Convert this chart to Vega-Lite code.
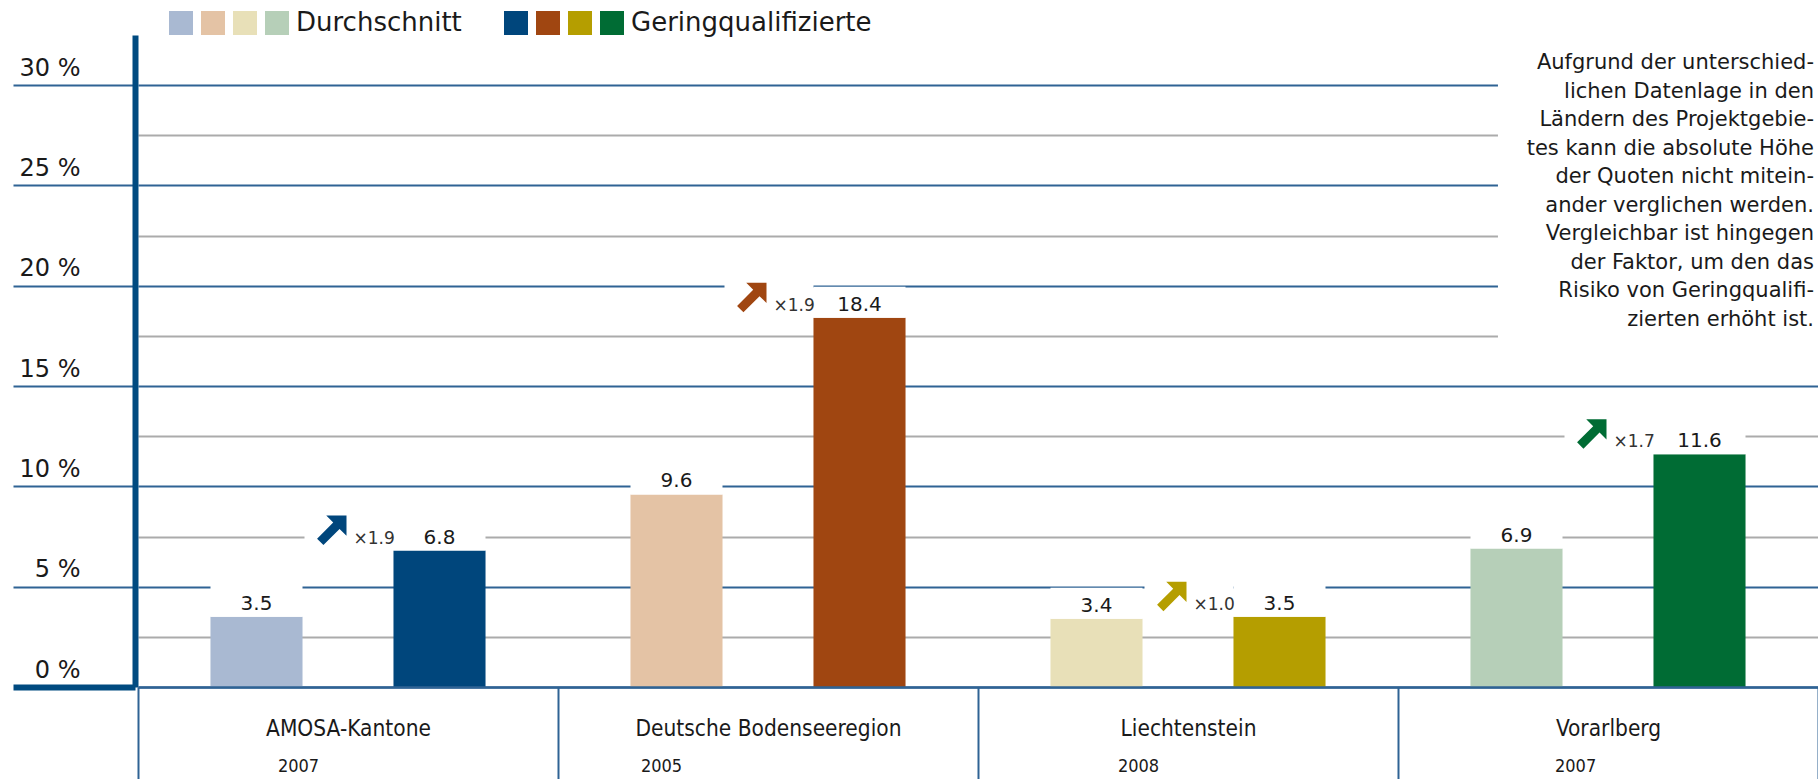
{
  "$schema": "https://vega.github.io/schema/vega-lite/v6.json",
  "width": 1680,
  "height": 652,
  "autosize": {"type": "none"},
  "padding": {"left": 138, "top": 35, "right": 0, "bottom": 92},
  "background": "white",
  "config": {"view": {"stroke": null}, "font": "DejaVu Sans"},
  "data": {
    "values": [
      {"region": "AMOSA-Kantone", "year": "2007", "group": "Durchschnitt", "value": 3.5},
      {"region": "AMOSA-Kantone", "year": "2007", "group": "Geringqualifizierte", "value": 6.8, "factor": 1.9},
      {"region": "Deutsche Bodenseeregion", "year": "2005", "group": "Durchschnitt", "value": 9.6},
      {"region": "Deutsche Bodenseeregion", "year": "2005", "group": "Geringqualifizierte", "value": 18.4, "factor": 1.9},
      {"region": "Liechtenstein", "year": "2008", "group": "Durchschnitt", "value": 3.4},
      {"region": "Liechtenstein", "year": "2008", "group": "Geringqualifizierte", "value": 3.5, "factor": 1.0},
      {"region": "Vorarlberg", "year": "2007", "group": "Durchschnitt", "value": 6.9},
      {"region": "Vorarlberg", "year": "2007", "group": "Geringqualifizierte", "value": 11.6, "factor": 1.7}
    ]
  },
  "transform": [
    {"calculate": "datum.group + ' ' + datum.region", "as": "series"},
    {"calculate": "isValid(datum.factor) ? '×' + format(datum.factor, '.1f') : ''", "as": "factorLabel"}
  ],
  "encoding": {
    "x": {
      "field": "region", "type": "nominal",
      "scale": {"paddingInner": 0, "paddingOuter": 0},
      "axis": {
        "title": null, "orient": "bottom", "grid": false,
        "domain": true, "domainColor": "#2f6394", "domainWidth": 2.5,
        "ticks": true, "tickBand": "extent", "tickSize": 92, "tickColor": "#2f6394", "tickWidth": 2,
        "labelPadding": -44, "labelBaseline": "alphabetic", "labelAngle": 0, "labelLimit": 500,
        "labelFont": "DejaVu Sans Condensed", "labelFontSize": 22.5, "labelColor": "#1a1a1a"
      }
    },
    "y": {
      "field": "value", "type": "quantitative",
      "scale": {"domain": [0, 32.5], "nice": false},
      "axis": {
        "title": null,
        "values": [0, 2.5, 5, 7.5, 10, 12.5, 15, 17.5, 20, 22.5, 25, 27.5, 30],
        "offset": 3,
        "domain": true, "domainColor": "#004a80", "domainWidth": 6,
        "ticks": true, "tickSize": 122,
        "tickColor": {"condition": {"test": "datum.value === 0", "value": "#004a80"}, "value": "#2f6394"},
        "tickWidth": {"condition": {"test": "datum.value === 0", "value": 6}, "value": 2},
        "tickOpacity": {"condition": {"test": "datum.value % 5 === 0", "value": 1}, "value": 0},
        "grid": true,
        "gridColor": {"condition": {"test": "datum.value % 5 === 0", "value": "#2f6394"}, "value": "#ababab"},
        "gridWidth": 2,
        "labelExpr": "datum.value % 5 === 0 ? datum.value + ' %' : ''",
        "labelPadding": -67, "labelAlign": "right", "labelBaseline": "alphabetic", "labelOffset": -10,
        "labelFont": "DejaVu Sans", "labelFontSize": 24, "labelColor": "#1a1a1a"
      }
    }
  },
  "layer": [
    {
      "transform": [{"filter": "datum.region === 'Vorarlberg' && datum.group === 'Durchschnitt'"}],
      "mark": {"type": "rect", "color": "white"},
      "encoding": {
        "x": {"datum": "Vorarlberg", "type": "nominal", "bandPosition": 0.238},
        "x2": {"value": "width"},
        "y": {"datum": 16.4, "type": "quantitative"},
        "y2": {"value": 0}
      }
    },
    {
      "transform": [{"filter": "datum.group === 'Durchschnitt'"}],
      "mark": {"type": "bar"},
      "encoding": {
        "xOffset": {"field": "group", "type": "nominal", "scale": {"domain": ["Durchschnitt", "Geringqualifizierte"], "paddingInner": 0.497, "paddingOuter": 0.396}},
        "color": {
          "field": "series", "type": "nominal",
          "scale": {
            "domain": ["Durchschnitt AMOSA-Kantone", "Durchschnitt Deutsche Bodenseeregion", "Durchschnitt Liechtenstein", "Durchschnitt Vorarlberg"],
            "range": ["#a9b9d2", "#e4c3a5", "#e8e0b8", "#b6cfb8"]
          },
          "legend": {
            "orient": "none", "legendX": 30, "legendY": -25, "direction": "horizontal", "title": null,
            "symbolType": "square", "symbolSize": 576, "symbolStrokeWidth": 0, "symbolOpacity": 1,
            "labelFont": "DejaVu Sans", "labelFontSize": 26, "labelColor": "#1a1a1a", "labelLimit": 500,
            "labelOffset": 6, "columnPadding": 0,
            "labelExpr": "datum.value === 'Durchschnitt Vorarlberg' ? '\u00a0Durchschnitt' : ''"
          }
        }
      }
    },
    {
      "transform": [{"filter": "datum.group === 'Geringqualifizierte'"}],
      "mark": {"type": "bar"},
      "encoding": {
        "xOffset": {"field": "group", "type": "nominal"},
        "fill": {
          "field": "series", "type": "nominal",
          "scale": {
            "domain": ["Geringqualifizierte AMOSA-Kantone", "Geringqualifizierte Deutsche Bodenseeregion", "Geringqualifizierte Liechtenstein", "Geringqualifizierte Vorarlberg"],
            "range": ["#00467c", "#a04611", "#b59e00", "#006c34"]
          },
          "legend": {
            "orient": "none", "legendX": 365, "legendY": -25, "direction": "horizontal", "title": null,
            "symbolType": "square", "symbolSize": 576, "symbolStrokeWidth": 0, "symbolOpacity": 1,
            "labelFont": "DejaVu Sans", "labelFontSize": 26, "labelColor": "#1a1a1a", "labelLimit": 500,
            "labelOffset": 6, "columnPadding": 0,
            "labelExpr": "datum.value === 'Geringqualifizierte Vorarlberg' ? '\u00a0Geringqualifizierte' : ''"
          }
        }
      }
    },
    {
      "mark": {"type": "point", "shape": "M-4.6,-3.1 L4.6,-3.1 L4.6,0 L-4.6,0 Z", "filled": true, "size": 400, "color": "white", "opacity": 1, "strokeWidth": 0},
      "encoding": {
        "xOffset": {"field": "group", "type": "nominal"}
      }
    },
    {
      "transform": [{"filter": "datum.group === 'Geringqualifizierte'"}],
      "mark": {"type": "point", "shape": "M-13.5,-4 L-4.6,-4 L-4.6,0 L-13.5,0 Z", "filled": true, "size": 400, "color": "white", "opacity": 1, "strokeWidth": 0},
      "encoding": {
        "xOffset": {"field": "group", "type": "nominal"}
      }
    },
    {
      "mark": {"type": "text", "align": "center", "baseline": "alphabetic", "dy": -7, "font": "DejaVu Sans", "fontSize": 20, "color": "#1a1a1a"},
      "encoding": {
        "xOffset": {"field": "group", "type": "nominal"},
        "text": {"field": "value", "type": "quantitative", "format": ".1f"}
      }
    },
    {
      "transform": [{"filter": "datum.group === 'Geringqualifizierte'"}],
      "mark": {"type": "point", "shape": "M-9.3,-3.5 L-9.3,-1.475 L-9.995,-2.17 L-11.607,-0.557 L-12.243,-1.193 L-10.63,-2.806 L-11.325,-3.5 Z", "filled": true, "size": 400, "opacity": 1, "strokeWidth": 0},
      "encoding": {
        "xOffset": {"field": "group", "type": "nominal"},
        "fill": {"field": "series", "type": "nominal"}
      }
    },
    {
      "transform": [{"filter": "datum.group === 'Geringqualifizierte'"}],
      "mark": {"type": "text", "align": "left", "baseline": "alphabetic", "dx": -86, "dy": -7, "font": "DejaVu Sans", "fontSize": 17, "color": "#333333"},
      "encoding": {
        "xOffset": {"field": "group", "type": "nominal"},
        "text": {"field": "factorLabel", "type": "nominal"}
      }
    },
    {
      "transform": [{"filter": "datum.group === 'Durchschnitt'"}],
      "mark": {"type": "text", "align": "left", "baseline": "alphabetic", "dx": {"expr": "4 - 5.7 * length(datum.region)"}, "dy": 85, "font": "DejaVu Sans Condensed", "fontSize": 18, "color": "#1a1a1a"},
      "encoding": {
        "y": {"datum": 0, "type": "quantitative"},
        "text": {"field": "year", "type": "nominal"}
      }
    },
    {
      "transform": [{"filter": "datum.region === 'Vorarlberg' && datum.group === 'Durchschnitt'"}],
      "mark": {
        "type": "text", "align": "right", "baseline": "alphabetic", "dx": -4, "dy": -16,
        "font": "DejaVu Sans", "fontSize": 21, "lineHeight": 28.5, "color": "#1a1a1a",
        "text": ["Aufgrund der unterschied-", "lichen Datenlage in den", "Ländern des Projektgebie-", "tes kann die absolute Höhe", "der Quoten nicht mitein-", "ander verglichen werden.", "Vergleichbar ist hingegen", "der Faktor, um den das", "Risiko von Geringqualifi-", "zierten erhöht ist."]
      },
      "encoding": {
        "x": {"datum": "Vorarlberg", "type": "nominal", "bandPosition": 1},
        "y": {"datum": 30, "type": "quantitative"}
      }
    }
  ]
}
